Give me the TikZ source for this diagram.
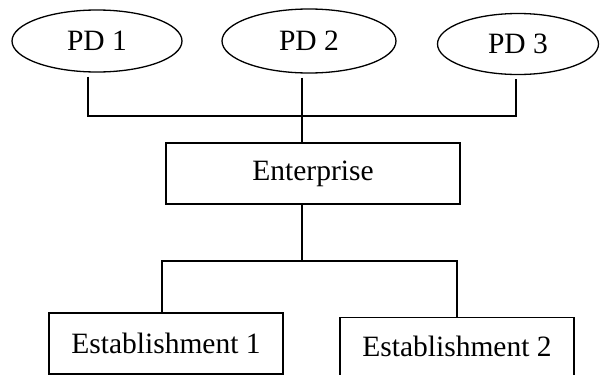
\documentclass[tikz,border=0pt]{standalone}
\usepackage{fontspec}
\setmainfont{Liberation Serif}
\usepackage{xcolor}
\usepackage{tikz}
\usetikzlibrary{shapes.geometric}

\tikzset{
    pdnode/.style={draw, ellipse, inner sep=0pt},
    unitbox/.style={draw, rectangle, inner sep=0pt},
}

\begin{document}
\begin{tikzpicture}[x=1pt, y=-1pt, line width=1.3pt,
    font=\fontsize{29.5}{32}\selectfont]

    % Frame
    \useasboundingbox (0, 0) rectangle (600, 375);

    % Product divisions
    \node[pdnode, minimum width=170pt, minimum height=62pt] (pd1) at (97, 41) {PD 1};
    \node[pdnode, minimum width=174pt, minimum height=64pt] (pd2) at (309, 41) {PD 2};
    \node[pdnode, minimum width=161pt, minimum height=61pt] (pd3) at (518, 44) {PD 3};

    % Enterprise
    \node[unitbox, minimum width=294pt, minimum height=61pt] (enterprise) at (313, 173.5) {Enterprise};

    % Establishments
    \node[unitbox, minimum width=234pt, minimum height=61pt] (est1) at (166, 343.5) {Establishment 1};
    \node[unitbox, minimum width=234pt, minimum height=58pt] (est2) at (457, 346.5) {Establishment 2};

    % Bus points
    \coordinate (topbus) at (302, 116);
    \coordinate (lowbus) at (302, 261);

    % Upper links
    \draw ([xshift=-9pt, yshift=-4pt]pd1.south) |- (topbus);
    \draw ([xshift=-2pt, yshift=-4pt]pd3.south) |- (topbus);
    \draw ([xshift=-7pt, yshift=-4pt]pd2.south) -- (topbus |- enterprise.north);

    % Lower links
    \draw (lowbus |- enterprise.south) -- (lowbus);
    \draw ([xshift=-4pt]est1.north) |- (lowbus);
    \draw (est2.north) |- (lowbus);

\end{tikzpicture}
\end{document}
